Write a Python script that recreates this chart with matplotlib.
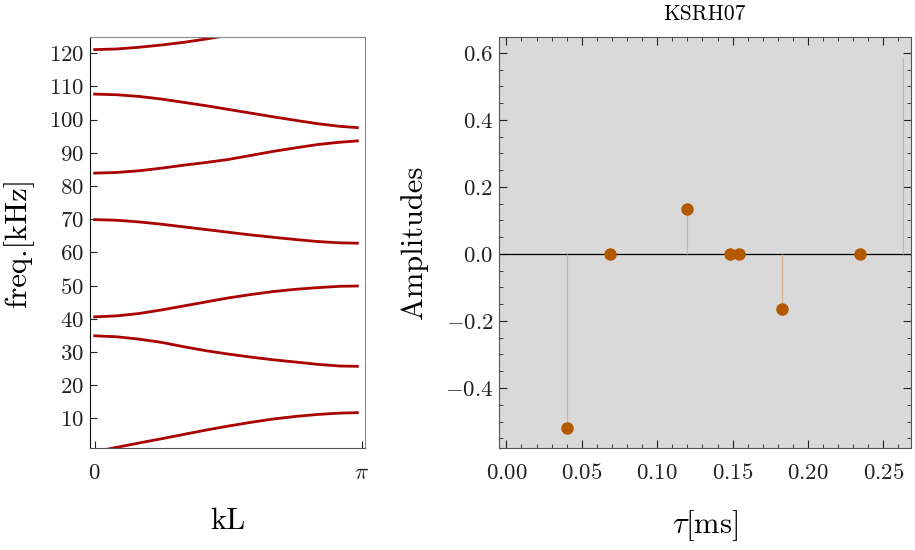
import numpy as np
import matplotlib
matplotlib.use("Agg")
import matplotlib.pyplot as plt
from matplotlib.ticker import MultipleLocator

plt.rcParams['font.family'] = 'serif'
plt.rcParams['font.serif'] = ['cmr10', 'DejaVu Serif']
plt.rcParams['mathtext.fontset'] = 'cm'
plt.rcParams['axes.formatter.use_mathtext'] = True

# band structure (left)
kL = [0, 0.26, 0.52, 0.79, 1.05, 1.31, 1.57, 1.83, 2.09, 2.36, 2.62, 2.88, 3.09]
band1 = [0.0, 1.3, 2.6, 3.9, 5.2, 6.5, 7.7, 8.8, 9.8, 10.6, 11.2, 11.6, 11.75]
band2 = [34.9, 34.6, 33.9, 32.9, 31.6, 30.4, 29.4, 28.5, 27.7, 27.0, 26.3, 25.8, 25.7]
band3 = [40.6, 40.9, 41.6, 42.7, 43.9, 45.1, 46.3, 47.3, 48.2, 48.9, 49.4, 49.8, 49.9]
band4 = [69.9, 69.7, 69.2, 68.5, 67.7, 66.9, 66.1, 65.3, 64.6, 63.9, 63.3, 62.9, 62.8]
band5 = [83.9, 84.1, 84.6, 85.4, 86.3, 87.1, 88.0, 89.2, 90.4, 91.5, 92.5, 93.2, 93.6]
band6 = [107.7, 107.5, 107.0, 106.2, 105.2, 104.2, 103.1, 102.0, 100.9, 99.8, 98.8, 98.0, 97.6]
kL_top = [0, 0.26, 0.52, 0.79, 1.05, 1.31, 1.57]
band7 = [121.1, 121.3, 121.8, 122.5, 123.3, 124.3, 125.4]

# stem amplitudes (right)
tau = [0.0402, 0.0686, 0.1199, 0.1482, 0.1544, 0.1829, 0.2343, 0.2628]
amp = [-0.520, 0.0, 0.135, 0.0, 0.0, -0.165, 0.0, 0.586]
n_markers = 7  # last stem has no visible marker

fig = plt.figure(figsize=(9.15, 5.5), dpi=100)
ax1 = fig.add_axes([90/915, 102/550, 275/915, 411/550])
ax2 = fig.add_axes([499/915, 102/550, 412/915, 411/550])

red = '#aa0000'
for b in [band1, band2, band3, band4, band5, band6]:
    ax1.plot(kL, b, color=red, lw=2)
ax1.plot(kL_top, band7, color=red, lw=2)
ax1.set_xlim(-0.055, 3.18)
ax1.set_ylim(1.1, 124.9)
ax1.set_xticks([0, np.pi])
ax1.set_xticklabels(['$0$', r'$\pi$'])
ax1.set_yticks(range(10, 121, 10))
ax1.tick_params(axis='both', direction='in', length=5, labelsize=16.5, colors='#222222')
ax1.tick_params(axis='x', pad=11)
ax1.tick_params(axis='y', pad=4)
ax1.spines['left'].set_color('#111111')
ax1.spines['bottom'].set_color('#555555')
ax1.spines['top'].set_color('#888888')
ax1.spines['right'].set_color('#888888')
ax1.set_xlabel('kL', fontsize=22, labelpad=18)
ax1.set_ylabel('freq.[kHz]', fontsize=22, labelpad=11)

ax2.set_facecolor('#d9d9d9')
ax2.axhline(0, color='black', lw=0.9, zorder=2)
ax2.vlines(tau, 0, amp, color='#dcb48a', lw=0.9, zorder=3)
ax2.plot(tau[:n_markers], amp[:n_markers], 'o', color='#b35900', ms=8, zorder=4)
ax2.set_xlim(-0.0049, 0.2683)
ax2.set_ylim(-0.579, 0.647)
ax2.xaxis.set_major_locator(MultipleLocator(0.05))
ax2.xaxis.set_minor_locator(MultipleLocator(0.01))
ax2.yaxis.set_major_locator(MultipleLocator(0.2))
ax2.yaxis.set_minor_locator(MultipleLocator(0.05))
ax2.xaxis.set_major_formatter(lambda v, p: f'${v:.2f}$')
ax2.yaxis.set_major_formatter(lambda v, p: f'${v:.1f}$')
ax2.tick_params(which='both', direction='in', top=True, right=True, colors='#222222')
ax2.tick_params(which='major', length=6, labelsize=16.5)
ax2.tick_params(which='minor', length=3)
ax2.tick_params(axis='x', which='both', pad=11)
ax2.tick_params(axis='y', pad=4)
for s in ax2.spines.values():
    s.set_color('#555555')
ax2.set_xlabel(r'$\tau$[ms]', fontsize=22, labelpad=18)
ax2.set_ylabel('Amplitudes', fontsize=22, labelpad=12)
ax2.set_title('KSRH07', fontsize=15.5, pad=12)

fig.savefig('out.png', dpi=100)
